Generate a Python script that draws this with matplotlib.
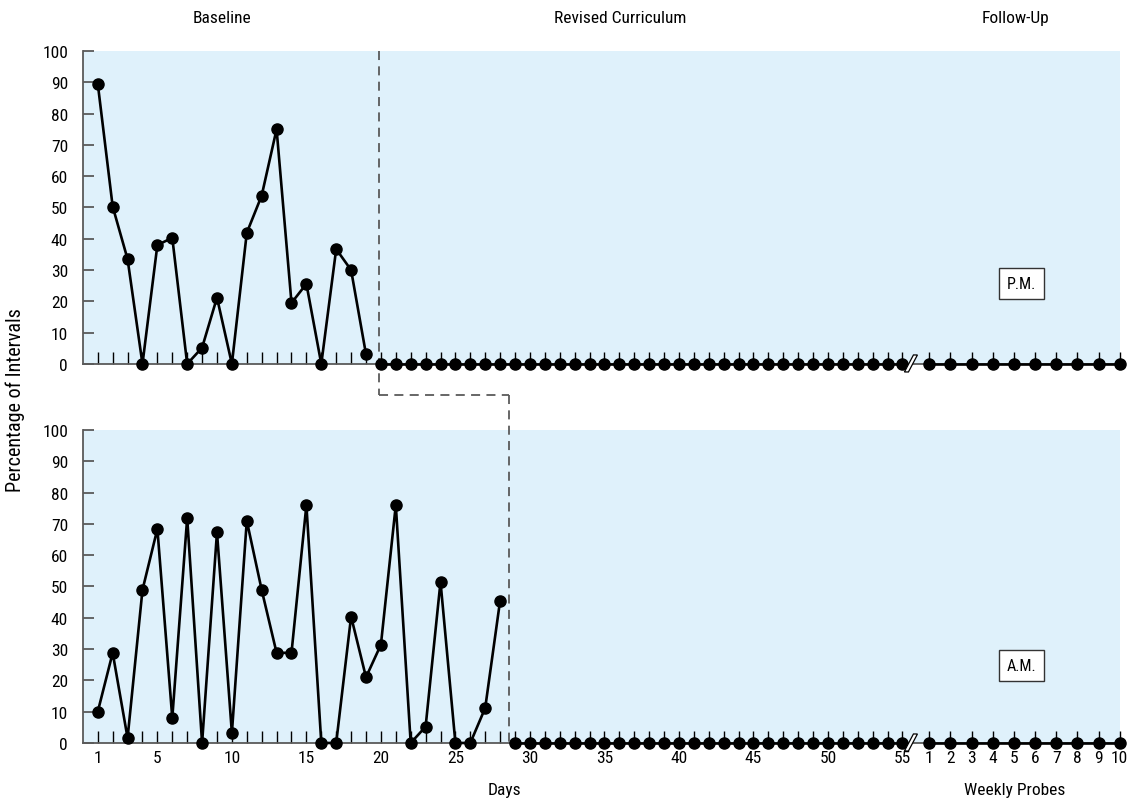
import matplotlib.pyplot as plt
from matplotlib import font_manager
from matplotlib.patches import Polygon

# the original uses a condensed sans; take the narrowest one that is installed
installed = font_manager.fontManager.ttflist
names = {f.name for f in installed}
if 'Liberation Sans Narrow' in names:
    plt.rcParams['font.family'] = ['Liberation Sans Narrow', 'DejaVu Sans']
elif 'Roboto Condensed' in names:
    plt.rcParams['font.family'] = ['Roboto Condensed', 'DejaVu Sans']
elif any(f.name == 'DejaVu Sans' and f.stretch == 'condensed' for f in installed):
    plt.rcParams['font.family'] = ['DejaVu Sans']
    plt.rcParams['font.stretch'] = 'condensed'
else:
    plt.rcParams['font.family'] = ['Roboto', 'DejaVu Sans']

# percentage of intervals
pm_days = list(range(1, 20))
pm_base = [89.5, 50.3, 33.5, 0, 38, 40.3, 0, 5.2, 21.2, 0,
           41.9, 53.8, 75, 19.5, 25.6, 0, 36.7, 30, 3.1]
pm_treat_days = list(range(20, 56))
pm_treat = [0, 0, 0, 0, 0, 0, 0, 0, 0, 0, 0, 0, 0, 0, 0, 0, 0, 0,
            0, 0, 0, 0, 0, 0, 0, 0, 0, 0, 0, 0, 0, 0, 0, 0, 0, 0]

am_days = list(range(1, 29))
am_base = [10, 28.8, 1.6, 48.9, 68.4, 8, 71.9, 0, 67.3, 3.2,
           71, 48.9, 28.8, 28.8, 76, 0, 0, 40.4, 21, 31.4,
           76, 0, 5.2, 51.5, 0, 0, 11.2, 45.5]
am_treat_days = list(range(29, 56))
am_treat = [0, 0, 0, 0, 0, 0, 0, 0, 0, 0, 0, 0, 0, 0, 0, 0, 0, 0,
            0, 0, 0, 0, 0, 0, 0, 0, 0]

probes = [1, 2, 3, 4, 5, 6, 7, 8, 9, 10]
pm_probe = [0, 0, 0, 0, 0, 0, 0, 0, 0, 0]
am_probe = [0, 0, 0, 0, 0, 0, 0, 0, 0, 0]

day_labels = [1, 5, 10, 15, 20, 25, 30, 35, 40, 45, 50, 55]
pm_phase = 19.88
am_phase = 28.63


def probe_x(p):
    # follow-up probes sit after the axis break, spaced a bit wider than days
    return 56.8 + (p - 1) * 1.42


shade = '#dff1fb'
grey = '#5a5a5a'

fig = plt.figure(figsize=(11.29, 8.03), dpi=100)
ax1 = fig.add_axes([0.0738, 0.5455, 0.9185, 0.3898])
ax2 = fig.add_axes([0.0738, 0.0735, 0.9185, 0.3898])

all_x = list(range(1, 56)) + [probe_x(p) for p in probes]

for ax, days, base, tdays, treat, probe_vals, label, ly in [
        (ax1, pm_days, pm_base, pm_treat_days, pm_treat, pm_probe, 'P.M.', 25.6),
        (ax2, am_days, am_base, am_treat_days, am_treat, am_probe, 'A.M.', 24.6)]:
    ax.set_facecolor(shade)
    ax.set_xlim(0.03, 69.62)
    ax.set_ylim(0, 100)
    for s in ['top', 'right']:
        ax.spines[s].set_visible(False)
    for s in ['left', 'bottom']:
        ax.spines[s].set_color(grey)
        ax.spines[s].set_linewidth(1.3)

    kw = dict(color='black', lw=1.9, marker='o', markersize=8, clip_on=False, zorder=5)
    ax.plot(days, base, **kw)
    ax.plot(tdays, treat, **kw)
    ax.plot([probe_x(p) for p in probes], probe_vals, **kw)

    ax.set_yticks(range(0, 101, 10))
    ax.tick_params(axis='y', direction='in', length=8, width=1.3, color=grey,
                   pad=11, labelsize=12.5)
    ax.set_xticks(all_x)
    ax.tick_params(axis='x', direction='in', length=8.5, width=1.0, color='black',
                   pad=5, labelsize=12.5)

    ax.text(63.0, ly, label, ha='center', va='center', fontsize=11.5,
            bbox=dict(boxstyle='square,pad=0.5', fc='white', ec='#333333', lw=1.0),
            zorder=6)

    # axis break marker between day 55 and the weekly probes
    bx = 55.67
    px = 1 / 14.9
    py = 100 / 313
    ax.add_patch(Polygon([(bx - 8 * px, -8 * py), (bx + 1 * px, 9 * py),
                          (bx + 5 * px, 9 * py), (bx - 4 * px, -8 * py)],
                         closed=True, fc='white', ec='black', lw=0.9,
                         clip_on=False, zorder=7))

ax1.set_xticklabels([''] * len(all_x))
labels2 = []
for d in range(1, 56):
    labels2.append(str(d) if d in day_labels else '')
for p in probes:
    labels2.append(str(p))
ax2.set_xticklabels(labels2)

# phase change line
dash = dict(color=grey, lw=1.3, ls=(0, (5, 3.5)), clip_on=False, zorder=4)
ax1.plot([pm_phase, pm_phase], [100, -9.9], **dash)
ax1.plot([pm_phase, am_phase], [-9.9, -9.9], **dash)
ax2.plot([am_phase, am_phase], [111.3, 0], **dash)

fig.text(0.1966, 0.977, 'Baseline', ha='center', va='center', fontsize=12.5)
fig.text(0.549, 0.977, 'Revised Curriculum', ha='center', va='center', fontsize=12.5)
fig.text(0.899, 0.977, 'Follow-Up', ha='center', va='center', fontsize=12.5)
fig.text(0.4464, 0.016, 'Days', ha='center', va='center', fontsize=12.5)
fig.text(0.899, 0.016, 'Weekly Probes', ha='center', va='center', fontsize=12.5)
fig.text(0.0135, 0.502, 'Percentage of Intervals', rotation=90,
         ha='center', va='center', fontsize=14.5)

fig.savefig('out.png', dpi=100)
